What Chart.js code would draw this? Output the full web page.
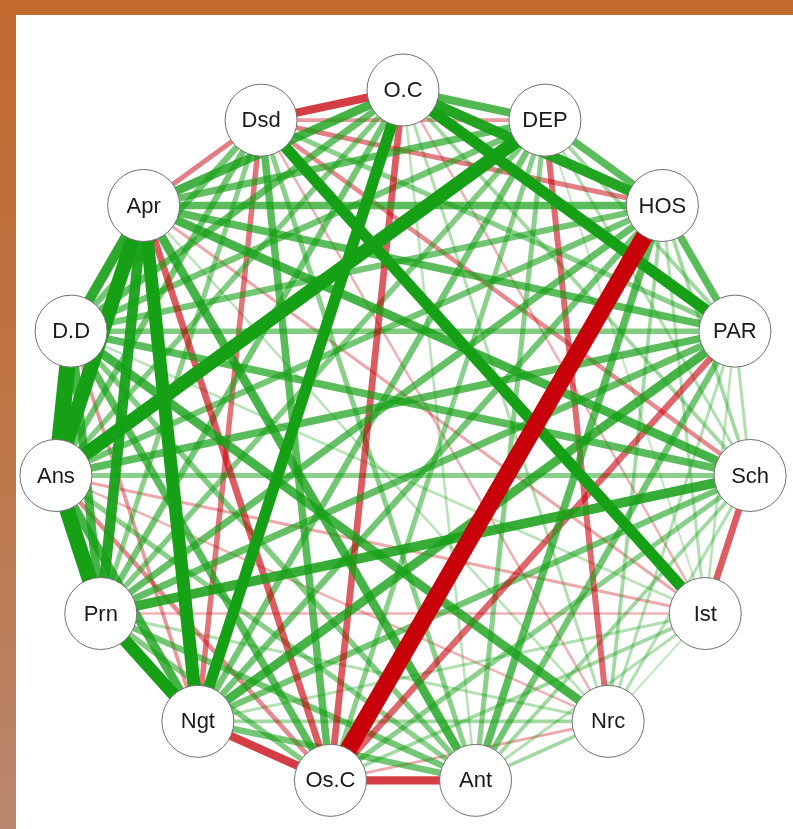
<!DOCTYPE html>
<html>
<head>
<meta charset="utf-8">
<script src="https://cdn.jsdelivr.net/npm/chart.js@4.4.1/dist/chart.umd.min.js"></script>
<style>
  html, body { margin: 0; padding: 0; }
  body { width: 793px; height: 829px; position: relative; overflow: hidden; background: #ffffff; }
  #topBar { position: absolute; left: 0; top: 0; width: 793px; height: 15px; background: #c1692f; }
  #leftBar { position: absolute; left: 0; top: 0; width: 16px; height: 829px;
             background: linear-gradient(to bottom, #c1692f 0%, #bf7545 50%, #b9876d 100%); }
  #wrap { position: absolute; left: 16px; top: 15px; width: 777px; height: 814px; background: #ffffff; }
  canvas { display: block; }
</style>
</head>
<body>
<div id="topBar"></div>
<div id="leftBar"></div>
<div id="wrap"><canvas id="net" width="777" height="814"></canvas></div>
<script>
// Node labels, placed clockwise around the circle starting at the top
const nodeLabels = ['O.C', 'DEP', 'HOS', 'PAR', 'Sch', 'Ist', 'Nrc', 'Ant', 'Os.C', 'Ngt', 'Prn', 'Ans', 'D.D', 'Apr', 'Dsd'];

// Edge list: endpoints and signed partial weights
const edgeFrom = [
  'O.C','O.C','O.C','O.C','O.C','O.C','O.C','O.C','O.C','O.C','O.C','O.C','O.C','O.C',
  'DEP','DEP','DEP','DEP','DEP','DEP','DEP','DEP','DEP','DEP','DEP','DEP','DEP',
  'HOS','HOS','HOS','HOS','HOS','HOS','HOS','HOS','HOS','HOS','HOS','HOS',
  'PAR','PAR','PAR','PAR','PAR','PAR','PAR','PAR','PAR','PAR','PAR',
  'Sch','Sch','Sch','Sch','Sch','Sch','Sch','Sch','Sch','Sch',
  'Ist','Ist','Ist','Ist','Ist','Ist','Ist','Ist','Ist',
  'Nrc','Nrc','Nrc','Nrc','Nrc','Nrc','Nrc','Nrc',
  'Ant','Ant','Ant','Ant','Ant','Ant','Ant',
  'Os.C','Os.C','Os.C','Os.C','Os.C','Os.C',
  'Ngt','Ngt','Ngt','Ngt','Ngt',
  'Prn','Prn','Prn','Prn',
  'Ans','Ans','Ans',
  'D.D','D.D',
  'Apr'
];
const edgeTo = [
  'DEP','HOS','PAR','Sch','Ist','Nrc','Ant','Os.C','Ngt','Prn','Ans','D.D','Apr','Dsd',
  'HOS','PAR','Sch','Ist','Nrc','Ant','Os.C','Ngt','Prn','Ans','D.D','Apr','Dsd',
  'PAR','Sch','Ist','Nrc','Ant','Os.C','Ngt','Prn','Ans','D.D','Apr','Dsd',
  'Sch','Ist','Nrc','Ant','Os.C','Ngt','Prn','Ans','D.D','Apr','Dsd',
  'Ist','Nrc','Ant','Os.C','Ngt','Prn','Ans','D.D','Apr','Dsd',
  'Nrc','Ant','Os.C','Ngt','Prn','Ans','D.D','Apr','Dsd',
  'Ant','Os.C','Ngt','Prn','Ans','D.D','Apr','Dsd',
  'Os.C','Ngt','Prn','Ans','D.D','Apr','Dsd',
  'Ngt','Prn','Ans','D.D','Apr','Dsd',
  'Prn','Ans','D.D','Apr','Dsd',
  'Ans','D.D','Apr','Dsd',
  'D.D','Apr','Dsd',
  'Apr','Dsd',
  'Dsd'
];
const edgeWeight = [
  0.32, 0.42, 0.45, 0.15, -0.10, 0.12, 0.10, -0.27, 0.45, 0.25, 0.22, 0.28, 0.35, -0.33,
  0.30, 0.15, 0.12, 0.08, -0.24, 0.20, 0.20, 0.25, 0.22, 0.55, 0.25, 0.28, -0.15,
  0.30, 0.15, 0.12, 0.15, 0.30, -0.70, 0.25, 0.28, 0.25, 0.25, 0.30, -0.20,
  0.12, 0.10, 0.12, 0.25, -0.25, 0.35, 0.28, 0.30, 0.22, 0.30, 0.20,
  -0.27, 0.12, 0.15, 0.20, 0.25, 0.38, 0.20, 0.30, 0.35, -0.18,
  0.08, 0.12, 0.15, 0.12, -0.10, -0.12, 0.10, -0.12, 0.45,
  0.15, -0.12, 0.15, 0.12, -0.10, 0.35, 0.10, -0.10,
  -0.33, 0.25, 0.25, 0.20, 0.22, 0.35, 0.20,
  -0.33, 0.22, -0.18, 0.30, -0.27, 0.30,
  0.50, 0.35, -0.15, 0.52, -0.22,
  0.62, 0.35, 0.42, 0.20,
  0.65, 0.58, 0.25,
  0.40, 0.25,
  -0.20
];

// Circle layout in canvas pixels
const W = 777, H = 814;
const CX = 387, CY = 424, R = 349, NODE_R = 36;
const step = 360 / nodeLabels.length;

function nodePos(i) {
  const a = (-90 + step * i) * Math.PI / 180;
  return { x: Math.cos(a), y: -Math.sin(a) };
}
const positions = nodeLabels.map((_, i) => nodePos(i));
const idx = {};
nodeLabels.forEach((n, i) => { idx[n] = i; });

// Width and opacity both grow with the absolute weight
function edgeStyle(w) {
  const a = Math.min(1, 0.1 + 2.0 * Math.abs(w));
  const color = w >= 0 ? `rgba(22,160,22,${a})` : `rgba(200,0,10,${a})`;
  return { color, width: Math.abs(w) * 25 };
}

// Strongest edges first so they end up drawn on top
const order = edgeWeight.map((w, k) => k).sort((a, b) => Math.abs(edgeWeight[b]) - Math.abs(edgeWeight[a]));
const edgeDatasets = order.map(k => {
  const s = edgeStyle(edgeWeight[k]);
  return {
    showLine: true,
    data: [positions[idx[edgeFrom[k]]], positions[idx[edgeTo[k]]]],
    borderColor: s.color,
    borderWidth: s.width,
    borderCapStyle: 'butt',
    pointRadius: 0,
    pointHoverRadius: 0,
    fill: false
  };
});

const nodeDataset = {
  data: positions,
  pointRadius: NODE_R,
  pointHoverRadius: NODE_R,
  pointBackgroundColor: '#ffffff',
  pointBorderColor: '#707070',
  pointBorderWidth: 1,
  showLine: false
};

const nodeLabelPlugin = {
  id: 'nodeLabels',
  afterDatasetsDraw(chart) {
    const meta = chart.getDatasetMeta(0);
    const ctx = chart.ctx;
    ctx.save();
    ctx.fillStyle = '#1a1a1a';
    ctx.font = '22px "Liberation Sans", Arial, sans-serif';
    ctx.textAlign = 'center';
    ctx.textBaseline = 'middle';
    meta.data.forEach((pt, i) => {
      ctx.fillText(nodeLabels[i], pt.x, pt.y + 1);
    });
    ctx.restore();
  }
};

new Chart(document.getElementById('net'), {
  type: 'scatter',
  data: { datasets: [nodeDataset, ...edgeDatasets] },
  options: {
    responsive: false,
    animation: false,
    events: [],
    layout: { padding: 0, autoPadding: false },
    plugins: { legend: { display: false }, tooltip: { enabled: false } },
    scales: {
      x: { type: 'linear', display: false, min: -CX / R, max: (W - CX) / R },
      y: { type: 'linear', display: false, min: -(H - CY) / R, max: CY / R }
    }
  },
  plugins: [nodeLabelPlugin]
});
</script>
</body>
</html>
